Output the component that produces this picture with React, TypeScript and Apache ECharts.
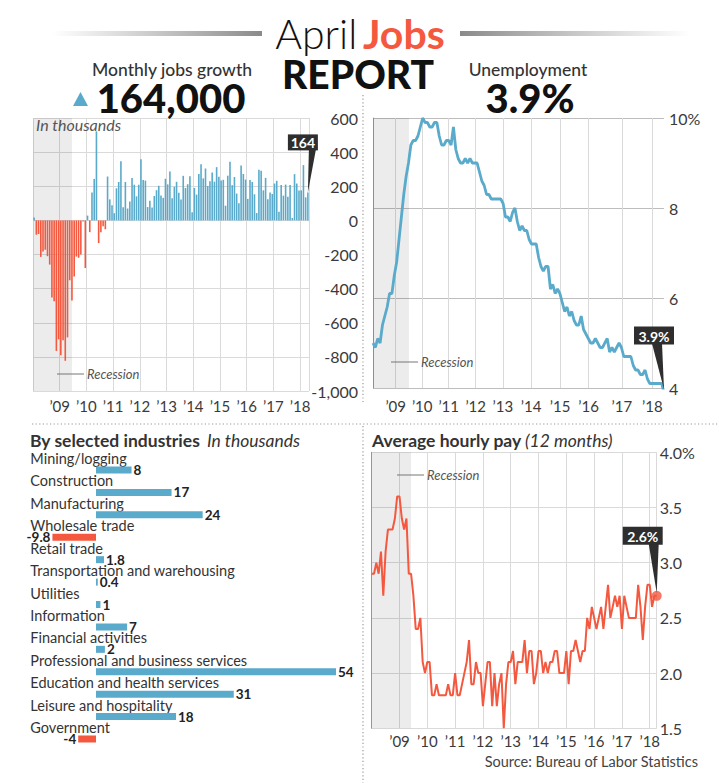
import React, { useEffect, useRef } from 'react';
import * as echarts from 'echarts';

// Monthly change in payrolls, thousands, Jan 2008 - Apr 2018
const JOBS = [
  17, -84, -80, -214, -182, -172, -210, -259, -452, -474, -765, -697,
  -791, -703, -823, -686, -351, -470, -329, -212, -219, -200, -7, -279,
  28, -69, 163, 243, 522, -133, -70, -34, -52, 257, 123, 88,
  42, 188, 225, 346, 77, 225, 69, 110, 248, 209, 141, 209,
  358, 237, 233, 78, 115, 76, 143, 177, 203, 146, 132, 244,
  211, 286, 130, 197, 226, 162, 122, 261, 190, 212, 258, 47,
  190, 151, 272, 329, 246, 304, 202, 230, 280, 227, 312, 255,
  234, 238, 86, 262, 344, 206, 254, 157, 100, 321, 272, 239,
  126, 237, 225, 153, 43, 297, 291, 176, 249, 124, 164, 155,
  216, 232, 50, 207, 145, 210, 138, 208, 14, 271, 216, 175,
  176, 324, 135, 164,
];

// Unemployment rate, %, Jan 2008 - Apr 2018
const UNEMP = [
  5.0, 4.9, 5.1, 5.0, 5.4, 5.6, 5.8, 6.1, 6.1, 6.5, 6.8, 7.3,
  7.8, 8.3, 8.7, 9.0, 9.4, 9.5, 9.5, 9.6, 9.8, 10.0, 9.9, 9.9,
  9.8, 9.8, 9.9, 9.9, 9.6, 9.4, 9.4, 9.5, 9.5, 9.4, 9.8, 9.3,
  9.1, 9.0, 9.0, 9.1, 9.0, 9.1, 9.0, 9.0, 9.0, 8.8, 8.6, 8.5,
  8.3, 8.3, 8.2, 8.2, 8.2, 8.2, 8.2, 8.1, 7.8, 7.8, 7.7, 7.9,
  8.0, 7.7, 7.5, 7.6, 7.5, 7.5, 7.3, 7.2, 7.2, 7.2, 6.9, 6.7,
  6.6, 6.7, 6.7, 6.2, 6.3, 6.1, 6.2, 6.1, 5.9, 5.7, 5.8, 5.6,
  5.7, 5.5, 5.4, 5.4, 5.6, 5.3, 5.2, 5.1, 5.0, 5.0, 5.1, 5.0,
  4.9, 4.9, 5.0, 5.1, 4.8, 4.9, 4.8, 4.9, 5.0, 4.9, 4.7, 4.7,
  4.7, 4.7, 4.5, 4.4, 4.4, 4.3, 4.3, 4.4, 4.2, 4.1, 4.1, 4.1,
  4.1, 4.1, 4.1, 3.9,
];

// Average hourly pay, 12-month change, %, Jan 2008 - Apr 2018
const PAY = [
  2.9, 2.9, 3.0, 2.9, 3.1, 2.7, 3.1, 3.3, 3.3, 3.3, 3.4, 3.6,
  3.6, 3.4, 3.3, 3.4, 2.9, 2.9, 2.7, 2.4, 2.4, 2.5, 2.1, 2.0,
  2.1, 2.1, 1.8, 1.8, 1.9, 1.8, 1.8, 1.8, 1.8, 1.9, 1.8, 1.8,
  2.0, 1.8, 1.8, 1.9, 2.0, 2.1, 2.3, 1.9, 1.9, 2.1, 2.0, 2.0,
  1.7, 1.9, 2.1, 2.1, 1.7, 2.0, 1.7, 1.9, 2.0, 1.5, 1.9, 2.1,
  2.1, 2.2, 1.9, 2.1, 2.1, 2.1, 2.3, 2.0, 2.2, 2.2, 1.9, 2.0,
  2.2, 2.2, 2.0, 2.1, 2.0, 2.1, 2.1, 2.2, 2.2, 2.0, 2.0, 2.0,
  2.2, 1.9, 2.2, 2.2, 2.3, 2.2, 2.1, 2.2, 2.2, 2.5, 2.4, 2.6,
  2.5, 2.4, 2.5, 2.6, 2.4, 2.6, 2.8, 2.5, 2.6, 2.7, 2.6, 2.7,
  2.4, 2.7, 2.6, 2.5, 2.5, 2.5, 2.5, 2.8, 2.6, 2.3, 2.6, 2.8,
  2.8, 2.6, 2.7, 2.7,
];

const INDUSTRIES = [
  'Mining/logging', 'Construction', 'Manufacturing', 'Wholesale trade',
  'Retail trade', 'Transportation and warehousing', 'Utilities', 'Information',
  'Financial activities', 'Professional and business services',
  'Education and health services', 'Leisure and hospitality', 'Government',
];
const INDUSTRY_VALUES = [8, 17, 24, -9.8, 1.8, 0.4, 1, 7, 2, 54, 31, 18, -4];

const YEAR_LABELS = ['’09', '’10', '’11', '’12', '’13', '’14', '’15', '’16', '’17', '’18'];
// year gridline positions on the unemployment chart (in month-index units)
const UNEMP_YEAR_POS = [9.6, 20.8, 32.0, 43.4, 54.9, 66.8, 79.1, 91.1, 105.2, 118.1];

const JOBS_LABEL = '164';
const UNEMP_LABEL = '3.9%';
const PAY_LABEL = '2.6%';

const BLUE = '#5aaacb';
const RED = '#f4583e';
const BAND = 'rgba(0,0,0,0.075)';
const GRID = '#dadada';
const DARK = '#2e2e2e';
const FONT = 'Lato, "Open Sans", sans-serif';

const axisText = { fontFamily: FONT, fontSize: 15, color: '#3a3a3a' };

function yearFmt(v: number) {
  if (v > 0 && v <= 120 && v % 12 === 0) return YEAR_LABELS[v / 12 - 1];
  return '';
}

export default function App() {
  const ref = useRef<HTMLDivElement>(null);
  useEffect(() => {
    const chart = echarts.init(ref.current!, null, { renderer: 'svg' });
    const n = JOBS.length;
    const option: any = {
      animation: false,
      textStyle: { fontFamily: FONT },
      grid: [
        { left: 33, top: 118, width: 276, height: 273 },
        { left: 373, top: 118, width: 291, height: 270 },
        { left: 29.33, top: 458.8, width: 306.67, height: 291.4 },
        { left: 371.7, top: 452.3, width: 285, height: 276 },
        // label rows for industries: same bands, lifted above the bars
        { left: 29.33, top: 447.3, width: 306.67, height: 291.4 },
      ],
      xAxis: [
        {
          type: 'value', gridIndex: 0, min: 0, max: n, interval: 12,
          axisLine: { show: false }, axisTick: { show: false },
          splitLine: { show: true, lineStyle: { color: GRID } },
          axisLabel: { ...axisText, margin: 7, formatter: yearFmt, showMinLabel: false, showMaxLabel: false },
        },
        {
          type: 'value', gridIndex: 1, min: 0, max: UNEMP.length - 1,
          axisLine: { show: false },
          axisTick: { show: false, customValues: UNEMP_YEAR_POS },
          splitLine: { show: true, lineStyle: { color: GRID } },
          axisLabel: {
            ...axisText, margin: 10, customValues: UNEMP_YEAR_POS,
            formatter: (v: number) => {
              const k = UNEMP_YEAR_POS.findIndex((p) => Math.abs(p - v) < 0.01);
              return k >= 0 ? YEAR_LABELS[k] : '';
            },
          },
        },
        { type: 'value', gridIndex: 2, min: -15, max: 54, show: false },
        {
          type: 'value', gridIndex: 3, min: 0, max: PAY.length - 1, interval: 12,
          axisLine: { show: false }, axisTick: { show: false },
          splitLine: { show: true, lineStyle: { color: GRID } },
          axisLabel: { ...axisText, margin: 5, formatter: yearFmt, showMinLabel: false, showMaxLabel: false },
        },
        { type: 'value', gridIndex: 4, min: -15, max: 54, show: false },
      ],
      yAxis: [
        {
          type: 'value', gridIndex: 0, min: -1000, max: 600, interval: 200, position: 'right',
          axisLine: { show: false }, axisTick: { show: false },
          splitLine: { lineStyle: { color: GRID } },
          axisLabel: { ...axisText, fontSize: 16, align: 'right', margin: 49, formatter: (v: number) => v.toLocaleString('en-US') },
        },
        {
          type: 'value', gridIndex: 1, min: 4, max: 10, interval: 2, position: 'right',
          axisLine: { show: true, lineStyle: { color: '#9a9a9a' } }, axisTick: { show: false },
          splitLine: { lineStyle: { color: '#bdbdbd' } },
          axisLabel: { ...axisText, fontSize: 16, margin: 5, formatter: (v: number) => (v === 10 ? '10%' : String(v)) },
        },
        {
          type: 'category', gridIndex: 2, data: INDUSTRIES, inverse: true,
          axisLine: { show: false, onZero: false }, axisTick: { show: false },
          axisLabel: { show: false },
        },
        {
          type: 'value', gridIndex: 3, min: 1.5, max: 4.0, interval: 0.5, position: 'right',
          axisLine: { show: true, lineStyle: { color: '#9a9a9a' } }, axisTick: { show: false },
          splitLine: { lineStyle: { color: GRID } },
          axisLabel: { ...axisText, fontSize: 16, margin: 3, formatter: (v: number) => (v === 4 ? '4.0%' : v.toFixed(1)) },
        },
        {
          type: 'category', gridIndex: 4, data: INDUSTRIES, inverse: true,
          axisLine: { show: false, onZero: false }, axisTick: { show: false },
          axisLabel: {
            inside: true, interval: 0, margin: 1, align: 'left', verticalAlign: 'middle',
            lineHeight: 14, fontFamily: FONT, fontSize: 14.5, color: '#333',
          },
        },
      ],
      series: [
        {
          type: 'line', xAxisIndex: 0, yAxisIndex: 0, z: 1, data: [[0, 0]], showSymbol: false,
          lineStyle: { width: 0 }, silent: true,
          markArea: { silent: true, itemStyle: { color: BAND }, data: [[{ xAxis: 0 }, { xAxis: 17.5 }]] },
        },
        {
          type: 'bar', xAxisIndex: 0, yAxisIndex: 0, z: 3, barWidth: 1.6,
          data: JOBS.map((v, i) => ({ value: [i + 0.5, v], itemStyle: { color: v < 0 ? RED : BLUE } })),
        },
        {
          type: 'line', xAxisIndex: 1, yAxisIndex: 1, z: 1, data: [[0, 5]], showSymbol: false,
          lineStyle: { width: 0 }, silent: true,
          markArea: { silent: true, itemStyle: { color: BAND }, data: [[{ xAxis: 0 }, { xAxis: 15.2 }]] },
        },
        {
          type: 'line', xAxisIndex: 1, yAxisIndex: 1, z: 3, showSymbol: false,
          lineStyle: { color: BLUE, width: 2.8 },
          data: UNEMP.map((v, i) => [i, v]),
        },
        {
          type: 'scatter', xAxisIndex: 1, yAxisIndex: 1, z: 4, symbolSize: 10,
          itemStyle: { color: BLUE },
          data: [[UNEMP.length - 1, UNEMP[UNEMP.length - 1]]],
        },
        {
          type: 'bar', xAxisIndex: 2, yAxisIndex: 2, barWidth: 7,
          label: {
            show: true, fontFamily: FONT, fontWeight: 'bold', fontSize: 13.5, lineHeight: 12,
            color: '#222', distance: 2,
          },
          data: INDUSTRY_VALUES.map((v) => ({
            value: v,
            itemStyle: { color: v < 0 ? RED : BLUE },
            label: { position: v < 0 ? 'left' : 'right' },
          })),
        },
        {
          type: 'line', xAxisIndex: 3, yAxisIndex: 3, z: 1, data: [[0, 2]], showSymbol: false,
          lineStyle: { width: 0 }, silent: true,
          markArea: { silent: true, itemStyle: { color: BAND }, data: [[{ xAxis: 0 }, { xAxis: 17 }]] },
        },
        {
          type: 'line', xAxisIndex: 3, yAxisIndex: 3, z: 3, showSymbol: false,
          lineStyle: { color: RED, width: 2 },
          data: PAY.map((v, i) => [i, v]),
        },
        {
          type: 'scatter', xAxisIndex: 3, yAxisIndex: 3, z: 4, symbolSize: 10,
          itemStyle: { color: RED },
          data: [[PAY.length - 1, PAY[PAY.length - 1]]],
        },
      ],
    };
    chart.setOption(option);

    const [jx, jy] = chart.convertToPixel({ xAxisIndex: 0, yAxisIndex: 0 }, [n - 0.5, JOBS[n - 1]]) as number[];
    const [ux, uy] = chart.convertToPixel({ xAxisIndex: 1, yAxisIndex: 1 }, [UNEMP.length - 1, UNEMP[UNEMP.length - 1]]) as number[];
    const [px, py] = chart.convertToPixel({ xAxisIndex: 3, yAxisIndex: 3 }, [PAY.length - 1, PAY[PAY.length - 1]]) as number[];

    const callout = (label: string, left: number, top: number, w: number, h: number, base0: number, base1: number, tipX: number, tipY: number) => [
      { type: 'polygon', z: 100, shape: { points: [[base0, top + h - 1], [base1, top + h - 1], [tipX, tipY]] }, style: { fill: DARK } },
      { type: 'rect', z: 100, shape: { x: left, y: top, width: w, height: h }, style: { fill: DARK } },
      {
        type: 'text', z: 101, x: left + w / 2, y: top + h / 2 + 0.5,
        style: { text: label, fill: '#fff', font: `bold 14px ${FONT}`, align: 'center', verticalAlign: 'middle' },
      },
    ];

    const dotted = (x1: number, y1: number, x2: number, y2: number) => ({
      type: 'line', z: 50, shape: { x1, y1, x2, y2 },
      style: { stroke: '#9a9a9a', lineWidth: 1.2, lineDash: [1.2, 2.4] },
    });

    const recession = (x: number, y: number) => [
      { type: 'line', z: 60, shape: { x1: x, y1: y, x2: x + 27, y2: y }, style: { stroke: '#777', lineWidth: 1 } },
      {
        type: 'text', z: 60, x: x + 30, y,
        style: { text: 'Recession', fill: '#555', font: `italic 13px ${FONT}`, align: 'left', verticalAlign: 'middle' },
      },
    ];

    const graphics: any[] = [
      {
        type: 'rect', z: 10, shape: { x: 52, y: 31, width: 210, height: 5 },
        style: { fill: new echarts.graphic.LinearGradient(0, 0, 1, 0, [{ offset: 0, color: 'rgba(150,150,150,0)' }, { offset: 1, color: '#8a8a8a' }]) },
      },
      {
        type: 'rect', z: 10, shape: { x: 460, y: 31, width: 230, height: 5 },
        style: { fill: new echarts.graphic.LinearGradient(0, 0, 1, 0, [{ offset: 0, color: '#8a8a8a' }, { offset: 1, color: 'rgba(150,150,150,0)' }]) },
      },
      {
        type: 'text', z: 10, x: 360, y: 33,
        style: {
          text: '{a|April}{s| }{b|Jobs}', align: 'center', verticalAlign: 'middle',
          rich: {
            a: { fontFamily: FONT, fontSize: 41, fontWeight: 300, fill: '#111', color: '#111' },
            s: { fontFamily: FONT, fontSize: 22 },
            b: { fontFamily: FONT, fontSize: 41, fontWeight: 'bold', fill: RED, color: RED },
          },
        },
      },
      {
        type: 'text', z: 10, x: 358, y: 73.5,
        style: { text: 'REPORT', fill: '#111', font: `900 39px ${FONT}`, align: 'center', verticalAlign: 'middle' },
      },
      {
        type: 'text', z: 10, x: 172, y: 69,
        style: { text: 'Monthly jobs growth', fill: '#333', font: `500 17.5px ${FONT}`, align: 'center', verticalAlign: 'middle' },
      },
      {
        type: 'polygon', z: 10, shape: { points: [[73, 106], [80.5, 92], [88, 106]] }, style: { fill: BLUE },
      },
      {
        type: 'text', z: 10, x: 171, y: 98,
        style: { text: '164,000', fill: '#111', font: `900 40px ${FONT}`, align: 'center', verticalAlign: 'middle' },
      },
      {
        type: 'text', z: 10, x: 528, y: 69,
        style: { text: 'Unemployment', fill: '#333', font: `500 17.5px ${FONT}`, align: 'center', verticalAlign: 'middle' },
      },
      {
        type: 'text', z: 10, x: 530, y: 98,
        style: { text: '3.9%', fill: '#111', font: `900 40px ${FONT}`, align: 'center', verticalAlign: 'middle' },
      },
      {
        type: 'text', z: 60, x: 36, y: 124,
        style: { text: 'In thousands', fill: '#555', font: `italic 16px ${FONT}`, align: 'left', verticalAlign: 'middle' },
      },
      {
        type: 'text', z: 10, x: 30, y: 440,
        style: {
          text: '{a|By selected industries}  {b|In thousands}', align: 'left', verticalAlign: 'middle',
          rich: {
            a: { fontFamily: FONT, fontSize: 17.5, fontWeight: 'bold', fill: '#333', color: '#333' },
            b: { fontFamily: FONT, fontSize: 17.5, fontStyle: 'italic', fill: '#333', color: '#333' },
          },
        },
      },
      {
        type: 'text', z: 10, x: 372, y: 440,
        style: {
          text: '{a|Average hourly pay} {b|(12 months)}', align: 'left', verticalAlign: 'middle',
          rich: {
            a: { fontFamily: FONT, fontSize: 17.5, fontWeight: 'bold', fill: '#333', color: '#333' },
            b: { fontFamily: FONT, fontSize: 17.5, fontStyle: 'italic', fill: '#333', color: '#333' },
          },
        },
      },
      {
        type: 'text', z: 10, x: 698, y: 761,
        style: { text: 'Source: Bureau of Labor Statistics', fill: '#444', font: `14.5px ${FONT}`, align: 'right', verticalAlign: 'middle' },
      },
      dotted(363, 95, 363, 402),
      dotted(32, 424, 719, 424),
      dotted(363, 426, 363, 783),
      ...recession(57, 374),
      ...recession(391, 362),
      ...recession(397, 475),
      ...callout(JOBS_LABEL, jx - 20, jy - 58, 30, 16, jx + 1, jx + 8, jx, jy),
      ...callout(UNEMP_LABEL, ux - 30, uy - 66, 40, 18, ux - 12, ux - 2, ux, uy - 3),
      ...callout(PAY_LABEL, px - 34, py - 69, 40, 18, px - 8, px + 2, px, py - 3),
    ];
    chart.setOption({ graphic: graphics });
    return () => chart.dispose();
  }, []);
  return <div ref={ref} style={{ position: 'absolute', left: 0, top: 0, width: 719, height: 783 }} />;
}
